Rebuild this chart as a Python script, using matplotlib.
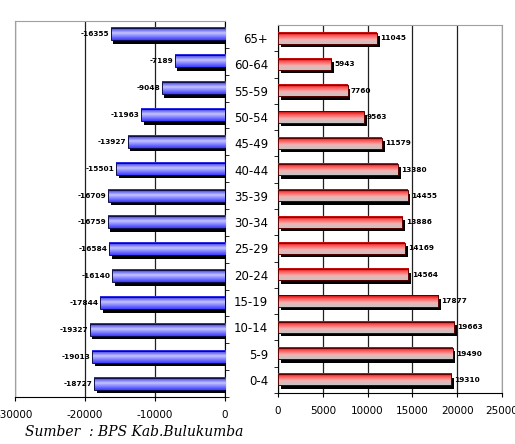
import numpy as np
import matplotlib.pyplot as plt
from matplotlib.colors import LinearSegmentedColormap

ages = ['0-4', '5-9', '10-14', '15-19', '20-24', '25-29', '30-34',
        '35-39', '40-44', '45-49', '50-54', '55-59', '60-64', '65+']
male = [18727, 19013, 19327, 17844, 16140, 16584, 16759,
        16709, 15501, 13927, 11963, 9048, 7189, 16355]
female = [19310, 19490, 19663, 17877, 14564, 14169, 13886,
          14455, 13380, 11579, 9563, 7760, 5943, 11045]

blue_cm = LinearSegmentedColormap.from_list(
    'b', [(0, '#2020e0'), (0.45, '#c4c4ff'), (1, '#3a3aff')])
red_cm = LinearSegmentedColormap.from_list(
    'r', [(0, '#c00000'), (0.3, '#ff5a5a'), (0.65, '#f0b4b4'), (1, '#c4c4c4')])
grad = np.linspace(0, 1, 64).reshape(-1, 1)

fig = plt.figure(figsize=(5.15, 4.44), dpi=100)
axl = fig.add_axes([15/515, 1-397/444, 210/515, 376/444])
axr = fig.add_axes([278/515, 1-393/444, 224/515, 368/444])

y = np.arange(len(ages))


def draw_bars(ax, vals, cmap, h, dx, dy, edge):
    for yi, v in zip(y, vals):
        x0, x1 = min(0, v), max(0, v)
        # shadow
        ax.add_patch(plt.Rectangle((x0 + dx, yi - h/2 - dy), x1 - x0, h,
                                   facecolor='black', edgecolor='none', zorder=2))
        ax.imshow(grad, cmap=cmap, aspect='auto', origin='upper',
                  extent=(x0, x1, yi - h/2, yi + h/2), zorder=3)
        ax.add_patch(plt.Rectangle((x0, yi - h/2), x1 - x0, h, facecolor='none',
                                   edgecolor=edge, linewidth=0.7, zorder=4))


neg = [-v for v in male]
draw_bars(axl, neg, blue_cm, 0.45, 380, 0.13, '#10104a')
draw_bars(axr, female, red_cm, 0.42, 320, 0.13, '#5a0000')

for yi, v in zip(y, male):
    axl.text(-v - 250, yi, f'-{v}', ha='right', va='center', fontsize=5.3,
             fontweight='bold', zorder=5)
for yi, v in zip(y, female):
    axr.text(v + 380, yi, f'{v}', ha='left', va='center', fontsize=5.3,
             fontweight='bold', zorder=5)

axl.set_xlim(-30000, 0)
axr.set_xlim(0, 25000)
for ax in (axl, axr):
    ax.set_ylim(-0.5, len(ages) - 0.5)
    ax.grid(axis='x', color='#202020', linewidth=0.9, zorder=1)
    ax.set_axisbelow(True)
    ax.tick_params(axis='x', labelsize=7.5, length=3, pad=6)
    ax.spines['top'].set_color('#a0a0a0')

axl.set_xticks([-30000, -20000, -10000, 0])
axl.set_xticklabels(['-30000', '-20000', '-10000', '0'])
axl.set_yticks([])
axl.set_yticks(y - 0.5, minor=True)
axl.yaxis.tick_right()
axl.tick_params(axis='y', which='minor', right=True, left=False, length=3)
axl.spines['left'].set_color('#a0a0a0')

axr.set_xticks([0, 5000, 10000, 15000, 20000, 25000])
axr.set_yticks(y)
axr.set_yticks(y - 0.5, minor=True)
axr.set_yticklabels(ages)
axr.tick_params(axis='y', which='minor', length=3)
axr.tick_params(axis='y', which='major', length=0, labelsize=8.5, pad=7)
axr.spines['right'].set_color('#a0a0a0')

fig.text(25/515, 1-432/444, 'Sumber  : BPS Kab.Bulukumba', family='DejaVu Serif',
         style='italic', fontsize=10, va='center')

fig.savefig('out.png', dpi=100)
